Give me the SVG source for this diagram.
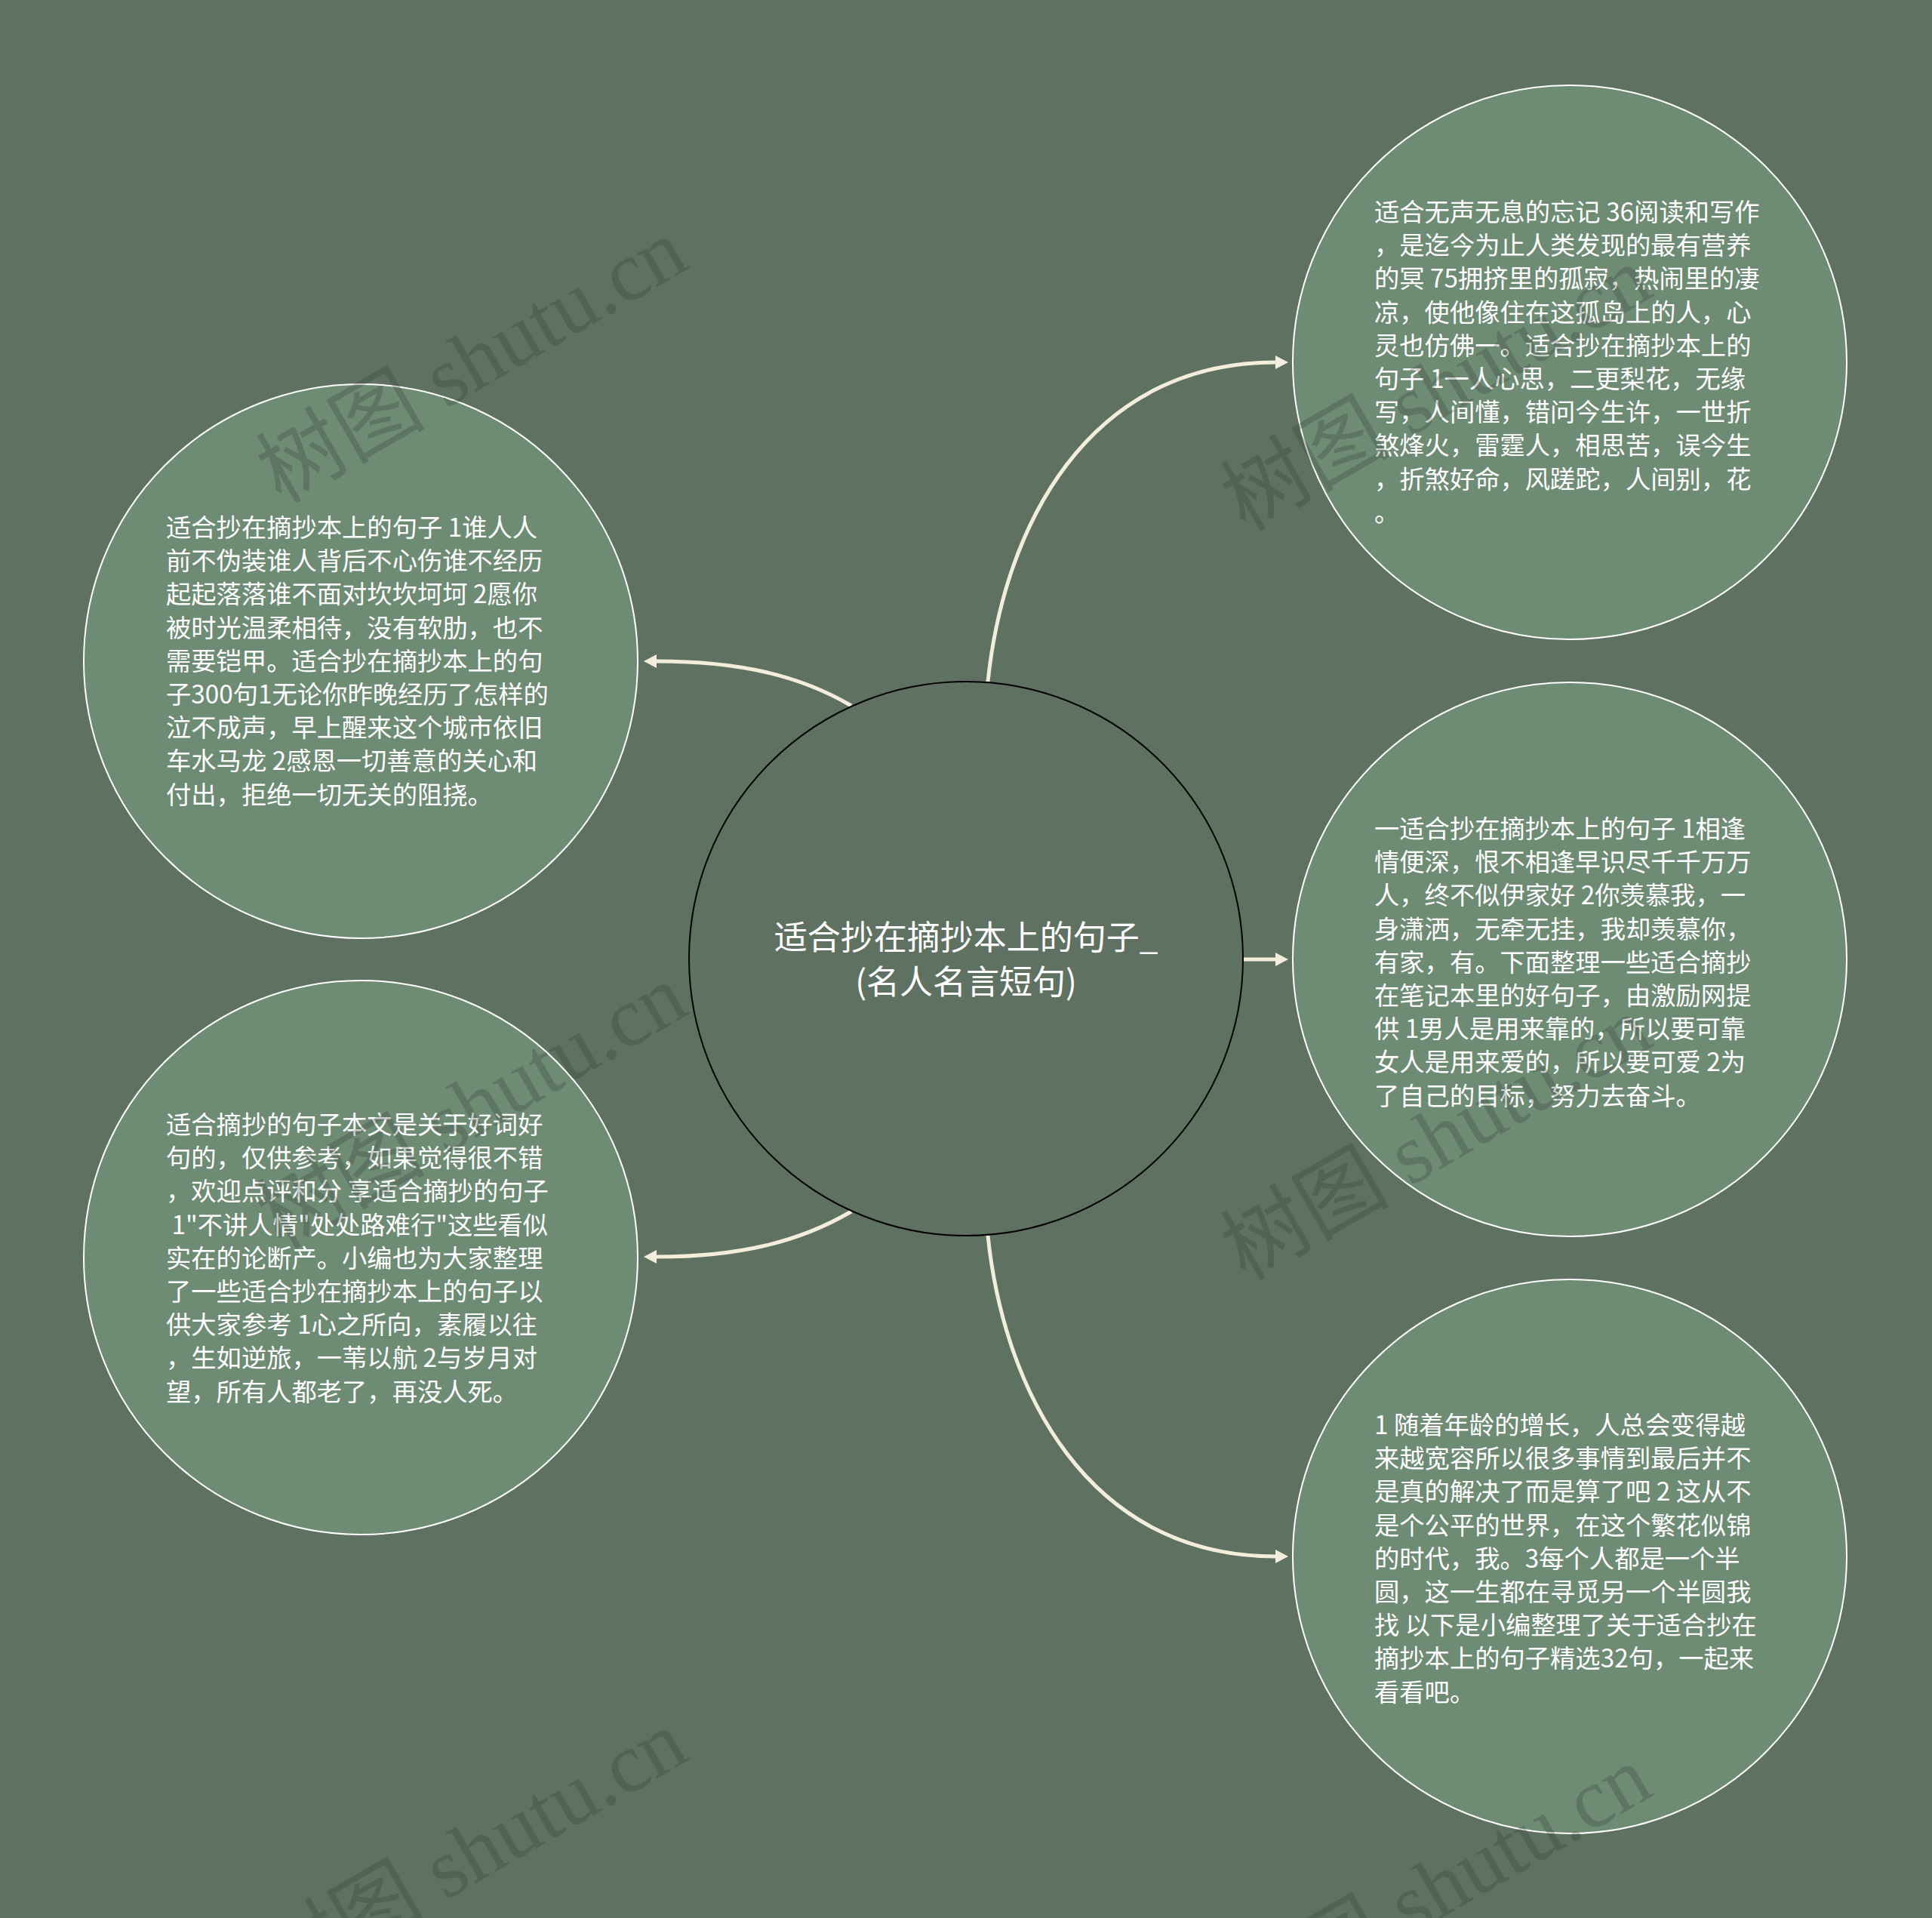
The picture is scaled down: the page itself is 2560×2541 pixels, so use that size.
<svg xmlns="http://www.w3.org/2000/svg" width="2560" height="2541" viewBox="0 0 2560 2541">
<defs>
<style>
.bg{fill:#5f7262}
.main{fill:#5f7262;stroke:#000;stroke-width:2}
.child{fill:#6e8b74;stroke:#fff;stroke-width:2}
.conn{fill:none;stroke:#f3eedc;stroke-width:5}
.t{font-family:"Noto Sans CJK SC","Noto Sans",sans-serif;fill:#fff;font-size:33.3px;white-space:pre}
.mt{font-family:"Noto Sans CJK SC","Noto Sans",sans-serif;fill:#fff;font-size:44px;text-anchor:middle}
.wm{font-family:"Liberation Serif","Noto Sans CJK SC",serif;font-size:112px;fill:#2b332c;fill-opacity:0.25}
</style>
<marker id="arr" markerUnits="userSpaceOnUse" markerWidth="18" markerHeight="20" refX="0" refY="9" orient="auto">
<path d="M0,0 L17,9 L0,18 z" fill="#f3eedc"/>
</marker>
</defs>
<rect class="bg" x="0" y="0" width="2560" height="2541"/>
<g id="connectors">
<path class="conn" d="M1309 903 C1330 700,1440 480,1690 480" marker-end="url(#arr)"/>
<path class="conn" d="M1647 1271 L1690 1271" marker-end="url(#arr)"/>
<path class="conn" d="M1309 1637 C1330 1840,1440 2062,1690 2062" marker-end="url(#arr)"/>
<path class="conn" d="M1128 935 C1060 895,980 876,870 876" marker-end="url(#arr)"/>
<path class="conn" d="M1128 1605 C1060 1645,980 1665,870 1665" marker-end="url(#arr)"/>
</g>
<g id="node-main">
<circle class="main" cx="1280" cy="1270" r="367"/>
<text class="mt" x="1280" y="1258">适合抄在摘抄本上的句子_</text>
<text class="mt" x="1280" y="1317">(名人名言短句)</text>
</g>
<g id="node-right-top">
<circle class="child" cx="2080" cy="480" r="367"/>
<text class="t">
<tspan x="1821" y="293">适合无声无息的忘记 36阅读和写作</tspan>
<tspan x="1821" y="337.2">，是迄今为止人类发现的最有营养</tspan>
<tspan x="1821" y="381.4">的冥 75拥挤里的孤寂，热闹里的凄</tspan>
<tspan x="1821" y="425.6">凉，使他像住在这孤岛上的人，心</tspan>
<tspan x="1821" y="469.8">灵也仿佛一。适合抄在摘抄本上的</tspan>
<tspan x="1821" y="514">句子 1一人心思，二更梨花，无缘</tspan>
<tspan x="1821" y="558.2">写，人间懂，错问今生许，一世折</tspan>
<tspan x="1821" y="602.4">煞烽火，雷霆人，相思苦，误今生</tspan>
<tspan x="1821" y="646.6">，折煞好命，风蹉跎，人间别，花</tspan>
<tspan x="1821" y="690.8">。</tspan>
</text>
</g>
<g id="node-right-mid">
<circle class="child" cx="2080" cy="1271" r="367"/>
<text class="t">
<tspan x="1821" y="1110">一适合抄在摘抄本上的句子 1相逢</tspan>
<tspan x="1821" y="1154.2">情便深，恨不相逢早识尽千千万万</tspan>
<tspan x="1821" y="1198.4">人，终不似伊家好 2你羡慕我，一</tspan>
<tspan x="1821" y="1242.6">身潇洒，无牵无挂，我却羡慕你，</tspan>
<tspan x="1821" y="1286.8">有家，有。下面整理一些适合摘抄</tspan>
<tspan x="1821" y="1331">在笔记本里的好句子，由激励网提</tspan>
<tspan x="1821" y="1375.2">供 1男人是用来靠的，所以要可靠</tspan>
<tspan x="1821" y="1419.4">女人是用来爱的，所以要可爱 2为</tspan>
<tspan x="1821" y="1463.6">了自己的目标，努力去奋斗。</tspan>
</text>
</g>
<g id="node-right-bottom">
<circle class="child" cx="2080" cy="2062" r="367"/>
<text class="t">
<tspan x="1821" y="1900">1 随着年龄的增长，人总会变得越</tspan>
<tspan x="1821" y="1944.2">来越宽容所以很多事情到最后并不</tspan>
<tspan x="1821" y="1988.4">是真的解决了而是算了吧 2 这从不</tspan>
<tspan x="1821" y="2032.6">是个公平的世界，在这个繁花似锦</tspan>
<tspan x="1821" y="2076.8">的时代，我。3每个人都是一个半</tspan>
<tspan x="1821" y="2121">圆，这一生都在寻觅另一个半圆我</tspan>
<tspan x="1821" y="2165.2">找 以下是小编整理了关于适合抄在</tspan>
<tspan x="1821" y="2209.4">摘抄本上的句子精选32句，一起来</tspan>
<tspan x="1821" y="2253.6">看看吧。</tspan>
</text>
</g>
<g id="node-left-top">
<circle class="child" cx="478" cy="876" r="367"/>
<text class="t">
<tspan x="220" y="711">适合抄在摘抄本上的句子 1谁人人</tspan>
<tspan x="220" y="755.2">前不伪装谁人背后不心伤谁不经历</tspan>
<tspan x="220" y="799.4">起起落落谁不面对坎坎坷坷 2愿你</tspan>
<tspan x="220" y="843.6">被时光温柔相待，没有软肋，也不</tspan>
<tspan x="220" y="887.8">需要铠甲。适合抄在摘抄本上的句</tspan>
<tspan x="220" y="932">子300句1无论你昨晚经历了怎样的</tspan>
<tspan x="220" y="976.2">泣不成声，早上醒来这个城市依旧</tspan>
<tspan x="220" y="1020.4">车水马龙 2感恩一切善意的关心和</tspan>
<tspan x="220" y="1064.6">付出，拒绝一切无关的阻挠。</tspan>
</text>
</g>
<g id="node-left-bottom">
<circle class="child" cx="478" cy="1666" r="367"/>
<text class="t">
<tspan x="220" y="1502">适合摘抄的句子本文是关于好词好</tspan>
<tspan x="220" y="1546.2">句的，仅供参考，如果觉得很不错</tspan>
<tspan x="220" y="1590.4">，欢迎点评和分 享适合摘抄的句子</tspan>
<tspan x="220" y="1634.6"> 1"不讲人情"处处路难行"这些看似</tspan>
<tspan x="220" y="1678.8">实在的论断产。小编也为大家整理</tspan>
<tspan x="220" y="1723">了一些适合抄在摘抄本上的句子以</tspan>
<tspan x="220" y="1767.2">供大家参考 1心之所向，素履以往</tspan>
<tspan x="220" y="1811.4">，生如逆旅，一苇以航 2与岁月对</tspan>
<tspan x="220" y="1855.6">望，所有人都老了，再没人死。</tspan>
</text>
</g>
<g id="watermark">
<text class="wm" transform="translate(372 668) rotate(-30)">树图 shutu.cn</text>
<text class="wm" transform="translate(372 1656) rotate(-30)">树图 shutu.cn</text>
<text class="wm" transform="translate(372 2644) rotate(-30)">树图 shutu.cn</text>
<text class="wm" transform="translate(1650 705) rotate(-30)">树图 shutu.cn</text>
<text class="wm" transform="translate(1650 1698) rotate(-30)">树图 shutu.cn</text>
<text class="wm" transform="translate(1650 2691) rotate(-30)">树图 shutu.cn</text>
</g>
</svg>
